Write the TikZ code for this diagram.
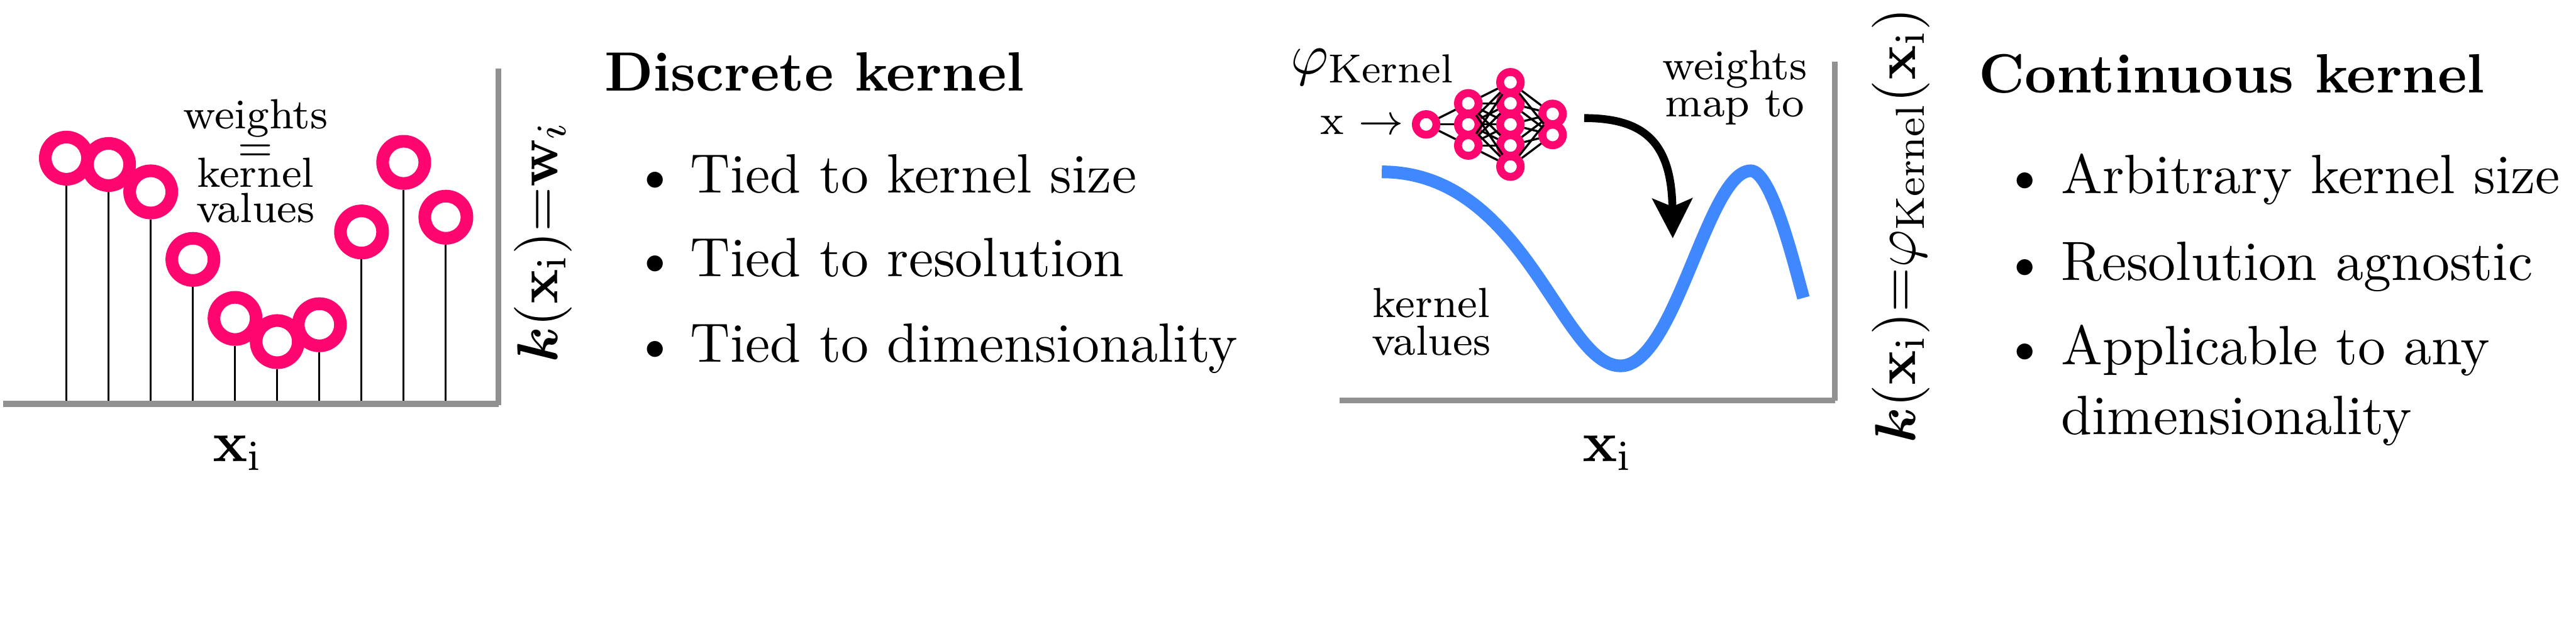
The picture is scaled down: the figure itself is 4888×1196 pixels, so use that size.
\documentclass[tikz,border=0pt]{standalone}
\usepackage{amsmath,bm}
\usetikzlibrary{arrows.meta}
\definecolor{mag}{RGB}{255,5,112}
\definecolor{kblue}{RGB}{64,136,255}
\definecolor{axgray}{RGB}{145,145,145}
\begin{document}
\begin{tikzpicture}[x=0.1pt,y=-0.1pt,
  ring/.style={circle,draw=mag,fill=white,line width=2.4pt,minimum size=8pt,inner sep=0pt},
  nn/.style={circle,draw=mag,fill=white,line width=1.5pt,minimum size=3.9pt,inner sep=0pt},
  stem/.style={line width=0.35pt},
  nnedge/.style={line width=0.4pt},
  axisline/.style={draw=axgray,line width=1.1pt},
  small/.style={font=\fontsize{8}{7}\selectfont,inner sep=0pt,align=center,anchor=north},
  body/.style={font=\fontsize{10.5}{12.6}\selectfont,inner sep=0pt,anchor=base west},
  ttl/.style={font=\fontsize{10.5}{12.6}\selectfont\bfseries,inner sep=0pt,anchor=base west},
  bul/.style={font=\fontsize{10.5}{12.6}\selectfont,inner sep=0pt,anchor=base},
  axlab/.style={font=\fontsize{11}{13}\selectfont,inner sep=0pt,anchor=base},
  kcurve/.style={draw=kblue,line width=2.4pt},
  maparrow/.style={line width=1.5pt,-{Stealth[length=7.5pt,width=7.5pt,inset=1.5pt]}}
]
\useasboundingbox (0,0) rectangle (4888,1196);

% ---------------- left panel: discrete kernel ----------------
\foreach \n/\x/\y in {1/126/300,2/206/312,3/286/364,4/366/492,5/446/604,
                      6/526/648,7/606/616,8/686/440,9/766/308,10/846/412}{
  \node[ring] (c\n) at (\x,\y) {};
}
\coordinate (la0) at (6,766);
\coordinate (la1) at (946,766);
\coordinate (la2) at (946,130);
\coordinate (la3) at (946,769);
\foreach \n in {1,...,10}{
  \draw[stem] (c\n.south) -- (c\n.south |- la0);
}
\draw[axisline] (la0) -- (la1);
\draw[axisline] (la2) -- (la3);

\node[small] (lw) at (485,186.5) {weights\\[-0.9pt]$=$\\[-2pt]kernel\\[-0.3pt]values};

\node[axlab] (lxi) at (451,875) {$\mathbf{x}_{\mathrm{i}}$};
\node[font=\fontsize{11}{13}\selectfont,inner sep=0pt,rotate=90] (lk) at (1030,459)
  {$\bm{k}(\mathbf{x}_{\mathrm{i}}){=}\mathbf{w}_{i}$};

\node[ttl] (dk) at (1145,172) {Discrete kernel};
\node[bul] (db1) at (1243,366) {\textbullet};
\node[body] (dt1) at (1308,366) {Tied to kernel size};
\node[bul] (db2) at (1243,525) {\textbullet};
\node[body] (dt2) at (1308,525) {Tied to resolution};
\node[bul] (db3) at (1243,687) {\textbullet};
\node[body] (dt3) at (1308,687) {Tied to dimensionality};

% ---------------- right panel: continuous kernel ----------------
\node[font=\fontsize{11}{13}\selectfont,inner sep=0pt,anchor=base west] (phi) at (2447,140)
  {$\varphi_{\text{Kernel}}$};
\node[font=\fontsize{8}{7}\selectfont,inner sep=0pt,anchor=base west] (xin) at (2503,255)
  {x $\rightarrow$};

% network
\node[nn] (n1) at (2706,236) {};
\foreach \i/\y in {1/196,2/236,3/276}{ \node[nn] (m\i) at (2786,\y) {}; }
\foreach \i/\y in {1/156,2/196,3/236,4/276,5/316}{ \node[nn] (p\i) at (2866,\y) {}; }
\foreach \i/\y in {1/216,2/256}{ \node[nn] (q\i) at (2946,\y) {}; }
\foreach \i in {1,2,3}{ \draw[nnedge] (n1) -- (m\i); }
\foreach \i in {1,2,3}{ \foreach \j in {1,...,5}{ \draw[nnedge] (m\i) -- (p\j); } }
\foreach \i in {1,...,5}{ \foreach \j in {1,2}{ \draw[nnedge] (p\i) -- (q\j); } }

\node[small] (wm) at (3292,93.5) {weights\\map to};

\coordinate (a0) at (3006,224);
\coordinate (a1) at (3174,452);
\draw[maparrow] (a0) .. controls (3120,224) and (3172,270) .. (a1);

\coordinate (k0) at (2622,326);
\coordinate (k1) at (3075,694);
\coordinate (k2) at (3322,324);
\coordinate (k3) at (3422,565);
\draw[kcurve] (k0) .. controls (2894,326) and (2962,694) .. (k1)
              .. controls (3179,694) and (3240,324) .. (k2)
              .. controls (3362,324) and (3406,507) .. (k3);

\node[small] (kv) at (2716,544.5) {kernel\\[0.2pt]values};

\coordinate (ra0) at (2542,760);
\coordinate (ra1) at (3482,760);
\coordinate (ra2) at (3481.5,117);
\coordinate (ra3) at (3481.5,760);
\draw[axisline] (ra0) -- (ra1);
\draw[axisline] (ra2) -- (ra3);

\node[axlab] (rxi) at (3050,875) {$\mathbf{x}_{\mathrm{i}}$};
\node[font=\fontsize{11}{13}\selectfont,inner sep=0pt,rotate=90] (rk) at (3607,428)
  {$\bm{k}(\mathbf{x}_{\mathrm{i}}){=}\varphi_{\text{Kernel}}(\mathbf{x}_{\mathrm{i}})$};

\node[ttl] (ck) at (3753,176) {Continuous kernel};
\node[bul] (cb1) at (3842,367) {\textbullet};
\node[body] (ct1) at (3909,367) {Arbitrary kernel size};
\node[bul] (cb2) at (3842,532) {\textbullet};
\node[body] (ct2) at (3909,532) {Resolution agnostic};
\node[bul] (cb3) at (3842,691) {\textbullet};
\node[body] (ct3) at (3909,691) {Applicable to any};
\node[body] (ct4) at (3909,824) {dimensionality};
\end{tikzpicture}
\end{document}
